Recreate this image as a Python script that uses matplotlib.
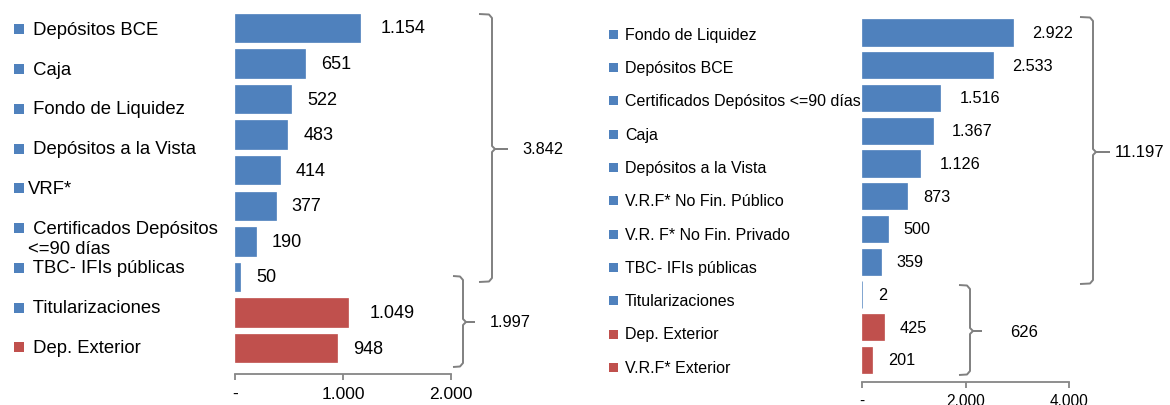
import matplotlib.pyplot as plt
from matplotlib.patches import Rectangle

plt.rcParams['font.family'] = ['Liberation Sans', 'DejaVu Sans']

W, H = 1170, 406
blue = '#4F81BD'
red = '#C0504D'
grey = '#868686'

# left panel data
left_labels = [' Depósitos BCE', ' Caja', ' Fondo de Liquidez', ' Depósitos a la Vista',
               'VRF*', ' Certificados Depósitos\n<=90 días', ' TBC- IFIs públicas',
               ' Titularizaciones', ' Dep. Exterior']
left_label_colors = [blue]*8 + [red]
left_values = [1154, 651, 522, 483, 414, 377, 190, 50, 1049, 948]
left_colors = [blue]*8 + [red]*2
left_ticks = [0, 1000, 2000]
left_ticklabels = ['-', '1.000', '2.000']
left_totals = [3842, 1997]

# right panel data
right_labels = ['Fondo de Liquidez', 'Depósitos BCE', 'Certificados Depósitos <=90 días',
                'Caja', 'Depósitos a la Vista', 'V.R.F* No Fin. Público',
                'V.R. F* No Fin. Privado', 'TBC- IFIs públicas', 'Titularizaciones',
                'Dep. Exterior', 'V.R.F* Exterior']
right_values = [2922, 2533, 1516, 1367, 1126, 873, 500, 359, 2, 425, 201]
right_colors = [blue]*9 + [red]*2
right_ticks = [0, 2000, 4000]
right_ticklabels = ['-', '2.000', '4.000']
right_totals = [11197, 626]


def fmt(v):
    return '{:,}'.format(v).replace(',', '.')


def px_axes(x0, x1, ytop, ybot):
    return fig.add_axes([x0/W, 1-ybot/H, (x1-x0)/W, (ybot-ytop)/H])


def bar_panel(ax, vals, cols, xmax, ybot, ticks, ticklabels, vsize, tsize, gap4, gap3, pad):
    n = len(vals)
    ax.barh(range(n), vals, height=0.8, color=cols, edgecolor=cols, linewidth=0.5)
    ax.set_xlim(0, xmax)
    ax.set_ylim(ybot, -0.5)
    for s in ['top', 'right', 'left']:
        ax.spines[s].set_visible(False)
    ax.spines['bottom'].set_color(grey)
    ax.spines['bottom'].set_linewidth(1.3)
    ax.set_yticks([])
    ax.set_xticks(ticks)
    ax.set_xticklabels(ticklabels, fontsize=tsize)
    ax.tick_params(axis='x', direction='out', length=4, width=1.3, color=grey, pad=pad)
    for i, v in enumerate(vals):
        off = gap4 if v >= 1000 else gap3
        ax.annotate(fmt(v), (v, i), xytext=(off*0.72, 0), textcoords='offset points',
                    ha='left', va='center', fontsize=vsize)


def brace(ax, x0, x1, x2, top, bot, mid):
    xs = [x0, x1-3, x1, x1, x1+3, x2]
    ys = [top, top+0.5, top+4, mid-3, mid, mid]
    ax.plot(xs, ys, color='#808080', lw=1.4, solid_capstyle='butt')
    ys2 = [bot, bot-0.5, bot-4, mid+3, mid, mid]
    ax.plot(xs, ys2, color='#808080', lw=1.4, solid_capstyle='butt')


fig = plt.figure(figsize=(W/100, H/100), dpi=100)

axl = px_axes(235, 451, 11.2, 374.5)
bar_panel(axl, left_values, left_colors, 2000, 9.716, left_ticks, left_ticklabels,
          13, 12.5, 21, 16, 5)

axr = px_axes(862, 1069, 17.1, 383)
bar_panel(axr, right_values, right_colors, 4000, 10.672, right_ticks, right_ticklabels,
          11.7, 11.2, 19, 16, 4)

# overlay in pixel coordinates for legend-like labels and braces
ov = fig.add_axes([0, 0, 1, 1], facecolor='none')
ov.set_xlim(0, W)
ov.set_ylim(H, 0)
ov.axis('off')

for i, (lab, c) in enumerate(zip(left_labels, left_label_colors)):
    y = 30.3 + i*39.75
    ov.add_patch(Rectangle((14, y-5), 10, 10, color=c, lw=0))
    yt = y + 10.5 if '\n' in lab else y
    ov.text(28, yt, lab, fontsize=13.3, ha='left', va='center', linespacing=1.18)

for i, (lab, c) in enumerate(zip(right_labels, right_colors)):
    y = 35.3 + i*33.3
    ov.add_patch(Rectangle((609, y-4.5), 9, 9, color=c, lw=0))
    ov.text(625, y, lab, fontsize=11.5, ha='left', va='center')

brace(ov, 479, 492, 508, 15, 283, 150)
ov.text(522, 150, fmt(left_totals[0]), fontsize=11.8, ha='left', va='center')
brace(ov, 453, 463, 475, 277, 368, 323)
ov.text(490, 323, fmt(left_totals[1]), fontsize=11.8, ha='left', va='center')
brace(ov, 1080, 1093, 1110, 18, 285, 153)
ov.text(1115, 153, fmt(right_totals[0]), fontsize=12, ha='left', va='center')
brace(ov, 959, 970, 982, 286, 376, 332)
ov.text(1010, 333, fmt(right_totals[1]), fontsize=12, ha='left', va='center')

plt.savefig('out.png', dpi=100)
